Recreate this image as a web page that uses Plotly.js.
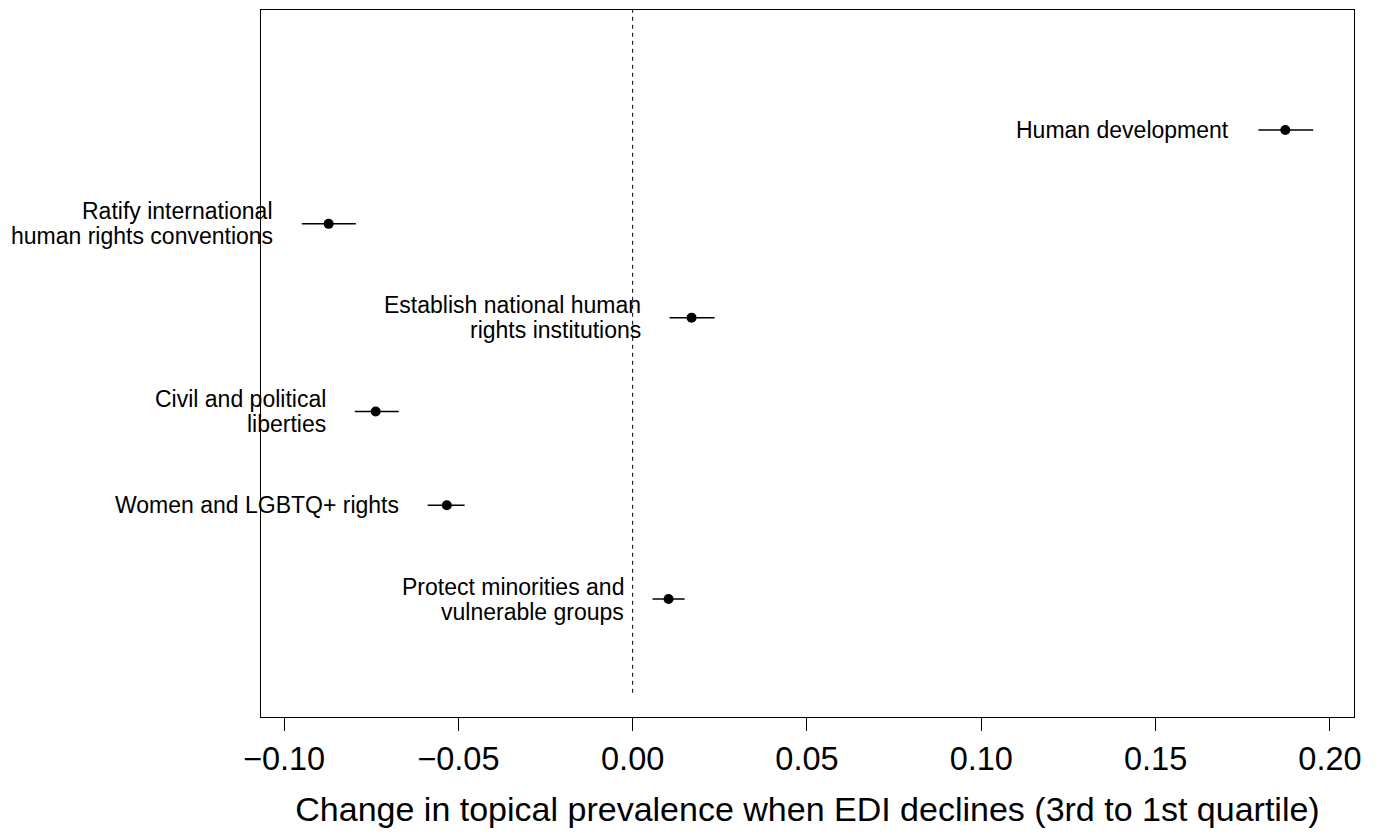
<!DOCTYPE html>
<html>
<head>
<meta charset="utf-8">
<script src="https://cdn.plot.ly/plotly-3.0.1.min.js"></script>
<style>html,body{margin:0;padding:0;background:#fff;}#chart{width:1384px;height:833px;}</style>
</head>
<body>
<div id="chart"></div>
<script>
// Topics (top to bottom)
const topics = [
  "Human development",
  "Ratify international\nhuman rights conventions",
  "Establish national human\nrights institutions",
  "Civil and political\nliberties",
  "Women and LGBTQ+ rights",
  "Protect minorities and\nvulnerable groups"
];
const positions = [6, 5, 4, 3, 2, 1];
const estimates = [0.1872, -0.0872, 0.0169, -0.0737, -0.0533, 0.0103];
const lowerCI  = [0.1795, -0.0949, 0.0106, -0.0797, -0.0588, 0.0057];
const upperCI  = [0.1952, -0.0794, 0.0235, -0.0671, -0.0482, 0.0149];
const xTicks = [-0.10, -0.05, 0.00, 0.05, 0.10, 0.15, 0.20];
const xTitle = "Change in topical prevalence when EDI declines (3rd to 1st quartile)";

const font = "Liberation Sans, Arial, Helvetica, sans-serif";

const traces = [
  {
    x: [0, 0], y: [0, 8], mode: "lines", type: "scatter",
    line: {color: "black", width: 1, dash: "4px,4px"},
    hoverinfo: "skip", showlegend: false
  },
  {
    x: estimates, y: positions, mode: "markers", type: "scatter",
    marker: {color: "black", size: 10},
    error_x: {
      type: "data", symmetric: false,
      array: estimates.map((e, i) => upperCI[i] - e),
      arrayminus: estimates.map((e, i) => e - lowerCI[i]),
      width: 0, thickness: 1.5, color: "black"
    },
    showlegend: false
  }
];

const annotations = [];
topics.forEach((t, i) => {
  const lines = t.split("\n");
  const n = lines.length;
  const spacing = 25;
  lines.forEach((ln, j) => {
    annotations.push({
      x: lowerCI[i], y: positions[i], xref: "x", yref: "y",
      text: ln, showarrow: false, xanchor: "right", yanchor: "middle",
      xshift: -27, yshift: ((n - 1) / 2 - j) * spacing,
      font: {family: font, size: 23, color: "black"}
    });
  });
});

const layout = {
  width: 1384, height: 833,
  margin: {l: 261, r: 30, t: 10, b: 116},
  paper_bgcolor: "white", plot_bgcolor: "white",
  font: {family: font, color: "black"},
  showlegend: false,
  xaxis: {
    range: [-0.1066, 0.2069],
    tickvals: xTicks,
    ticktext: xTicks.map(v => (v < 0 ? "\u2212" : "") + Math.abs(v).toFixed(2)),
    ticks: "outside", ticklen: 13, tickwidth: 1, tickcolor: "black",
    tickfont: {family: font, size: 32.5, color: "black"},
    showgrid: false, zeroline: false,
    showline: true, linecolor: "black", linewidth: 1, mirror: true,
    title: {text: xTitle, font: {family: font, size: 34, color: "black"}, standoff: 21}
  },
  yaxis: {
    range: [-0.258, 7.28],
    showticklabels: false, ticks: "", showgrid: false, zeroline: false,
    showline: true, linecolor: "black", linewidth: 1, mirror: true
  },
  annotations: annotations
};

Plotly.newPlot("chart", traces, layout, {displayModeBar: false, staticPlot: true});
</script>
</body>
</html>
